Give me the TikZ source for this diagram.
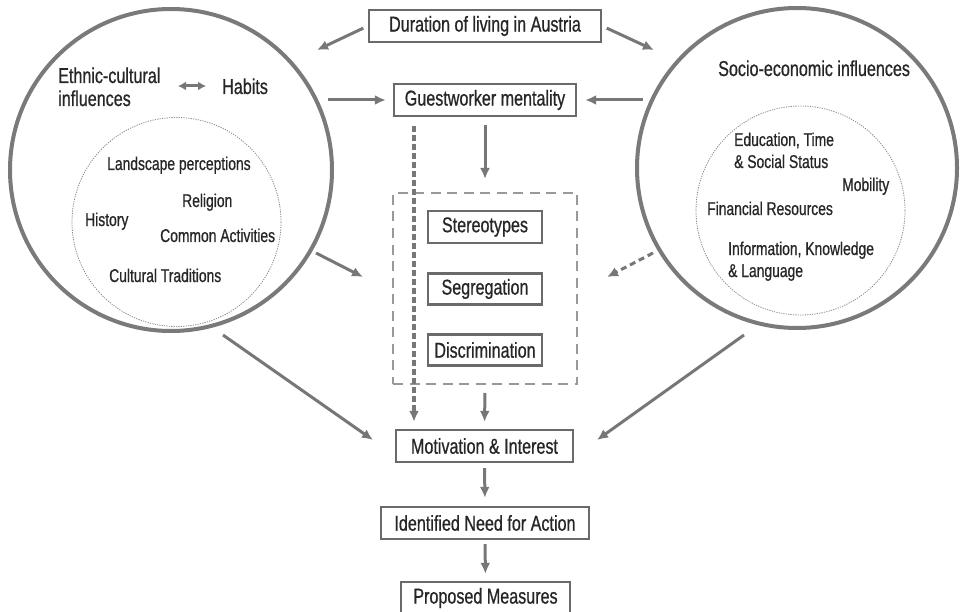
\documentclass[tikz,border=0pt]{standalone}
\usepackage{fontspec}
\setmainfont[FakeStretch=0.75,FakeBold=0.7]{Liberation Sans}
\usetikzlibrary{arrows.meta,calc}

\definecolor{ink}{HTML}{262626}
\definecolor{ringgray}{HTML}{7A7A7A}
\definecolor{boxgray}{HTML}{6A6A6A}
\definecolor{arrowgray}{HTML}{777777}
\definecolor{dashgray}{HTML}{999999}
\definecolor{dotgray}{HTML}{888888}

\newcommand{\mainsize}{\fontsize{21.5}{23}\selectfont}
\newcommand{\innersize}{\fontsize{18.5}{22.5}\selectfont}

\begin{document}
\begin{tikzpicture}[x=1pt,y=-1pt,
  box/.style={draw=boxgray, line width=2.4pt, minimum height=32pt,
              inner sep=0pt, text=ink, font=\mainsize},
  ring/.style={circle, draw=ringgray, line width=4pt, inner sep=0pt},
  innerring/.style={circle, draw=dotgray, line width=0.8pt,
              dash pattern=on 1.2pt off 1.2pt, inner sep=0pt},
  lbl/.style={text=ink, font=\mainsize, inner sep=0pt, align=left},
  ilbl/.style={text=ink, font=\innersize, inner sep=0pt, align=left},
  arr/.style={draw=arrowgray, line width=3pt,
              -{Latex[length=11pt,width=10pt]}},
  dasharr/.style={arr, line width=3.2pt, dash pattern=on 6pt off 3pt},
  dblarr/.style={draw=arrowgray, line width=3pt,
              {Latex[length=8pt,width=9pt]}-{Latex[length=8pt,width=9pt]}},
  groupbox/.style={draw=dashgray, line width=2pt,
              dash pattern=on 10pt off 6.5pt, inner sep=0pt}
]
\useasboundingbox (0,0) rectangle (960,612);

% the two influence circles with their dotted cores
\node[ring, minimum size=322pt] (ethnic) at (171,170) {};
\node[innerring, minimum size=209pt] (ethcore) at (176.5,222) {};
\node[ring, minimum size=320pt] (socio) at (797,168) {};
\node[innerring, minimum size=209pt] (soccore) at (800.5,210.5) {};

% labels of the ethnic-cultural circle
\node[lbl, anchor=base west] (eth1) at (58,83) {Ethnic-cultural};
\node[lbl, anchor=base west] (eth2) at (58,106) {influences};
\node[lbl, anchor=base west] (habits) at (222,94) {Habits};
\node[ilbl, anchor=base west] (land) at (107,170) {Landscape perceptions};
\node[ilbl, anchor=base west] (relig) at (182,207) {Religion};
\node[ilbl, anchor=base west] (hist) at (85,226) {History};
\node[ilbl, anchor=base west] (common) at (160,242) {Common Activities};
\node[ilbl, anchor=base west] (trad) at (109,282) {Cultural Traditions};

% labels of the socio-economic circle
\node[lbl, anchor=base west] (soclbl) at (718,76) {Socio-economic influences};
\node[ilbl, anchor=base west] (edu1) at (734,146) {Education, Time};
\node[ilbl, anchor=base west] (edu2) at (734,168) {\& Social Status};
\node[ilbl, anchor=base west] (mobil) at (842,191) {Mobility};
\node[ilbl, anchor=base west] (fin) at (707,215) {Financial Resources};
\node[ilbl, anchor=base west] (info1) at (728,255) {Information, Knowledge};
\node[ilbl, anchor=base west] (info2) at (728,277) {\& Language};

% central column
\node[box, minimum width=232pt] (dur) at (485,26) {Duration of living in Austria};
\node[box, minimum width=182pt] (gw) at (485,100) {Guestworker mentality};
\node[groupbox, minimum width=184pt, minimum height=191pt] (grp) at (485,288.5) {};
\node[box, minimum width=114pt] (stereo) at (485,227) {Stereotypes};
\node[box, minimum width=114pt, minimum height=31pt] (seg) at (485,289) {Segregation};
\node[box, minimum width=114pt, minimum height=31pt] (disc) at (485,350) {Discrimination};
\node[box, minimum width=177pt] (mot) at (484.5,446) {Motivation \& Interest};
\node[box, minimum width=208pt] (need) at (485,523) {Identified Need for Action};
\node[box, minimum width=169pt] (prop) at (485.5,598) {Proposed Measures};

% free ends of the connectors that stop short of a circle or a box
\coordinate (durL) at (317,50);
\coordinate (durR) at (654,50);
\coordinate (ethOut) at (328,100);
\coordinate (socOut) at (643,100);
\coordinate (ethMid) at (316,253);
\coordinate (ethMidEnd) at (363,277);
\coordinate (socMid) at (653,253);
\coordinate (socMidEnd) at (607,277);
\coordinate (ethLow) at (223,335);
\coordinate (ethLowEnd) at (373,440);
\coordinate (socLow) at (744,335);
\coordinate (socLowEnd) at (597,440);
\coordinate (habL) at (178,86);

% connectors
\draw[dblarr, shorten >=16pt] (habL) -- (habL -| habits.west);
\draw[arr, shorten <=5pt] (dur.west) -- (durL);
\draw[arr, shorten <=5pt] (dur.east) -- (durR);
\draw[arr, shorten >=7pt] (ethOut) -- (gw.west);
\draw[arr, shorten >=8pt] (socOut) -- (gw.east);
\draw[arr, shorten <=8pt, shorten >=13pt] (gw.south) -- (grp.north);
\draw[dasharr, shorten <=9pt, shorten >=7pt] ([xshift=-71pt]gw.south) -- ([xshift=-70.5pt]mot.north);
\draw[arr, shorten <=8pt, shorten >=7pt] (grp.south) -- (mot.north);
\draw[arr, shorten <=5pt, shorten >=8pt] (mot.south) -- (need.north);
\draw[arr, shorten <=4pt, shorten >=7pt] (need.south) -- (prop.north);
\draw[arr] (ethMid) -- (ethMidEnd);
\draw[arr, dash pattern=on 6pt off 4pt] (socMid) -- (socMidEnd);
\draw[arr] (ethLow) -- (ethLowEnd);
\draw[arr] (socLow) -- (socLowEnd);
\end{tikzpicture}
\end{document}
